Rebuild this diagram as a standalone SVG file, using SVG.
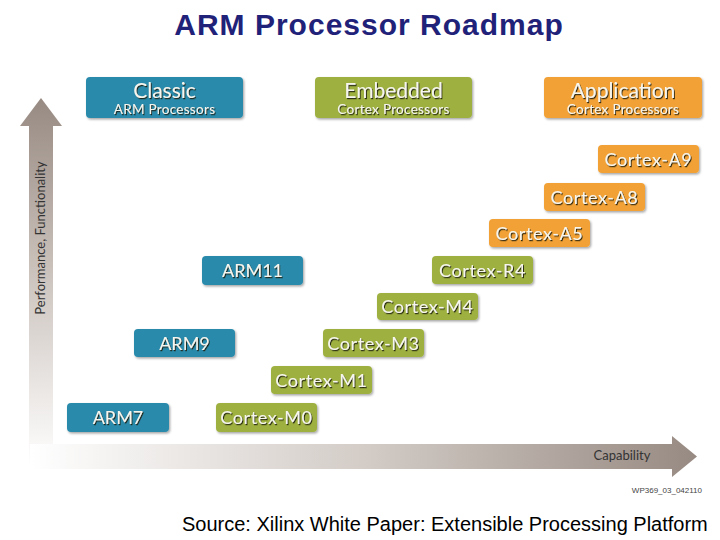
<svg xmlns="http://www.w3.org/2000/svg" width="720" height="540" viewBox="0 0 720 540">
<defs>
<linearGradient id="gv" x1="0" y1="0" x2="0" y2="1">
<stop offset="0" stop-color="#978a82"/>
<stop offset="0.45" stop-color="#c9c0ba"/>
<stop offset="1" stop-color="#ffffff"/>
</linearGradient>
<linearGradient id="gh" x1="0" y1="0" x2="1" y2="0">
<stop offset="0" stop-color="#ffffff"/>
<stop offset="0.5" stop-color="#d3ccc7"/>
<stop offset="1" stop-color="#978a82"/>
</linearGradient>
<filter id="bs" x="-10%" y="-20%" width="125%" height="150%">
<feDropShadow dx="1.2" dy="1.5" stdDeviation="1.2" flood-color="#000" flood-opacity="0.35"/>
</filter>
<filter id="ts" x="-10%" y="-30%" width="130%" height="160%">
<feDropShadow dx="1" dy="1.2" stdDeviation="0.6" flood-color="#1e1e10" flood-opacity="0.9"/>
</filter>
</defs>
<style>
.blue{fill:#2a8aab}
.green{fill:#9db03f}
.orange{fill:#f1a134}
.box{filter:url(#bs)}
.lbl{font-family:Lato,"Open Sans","DejaVu Sans",sans-serif;font-size:18px;fill:#f7f6ee;text-anchor:middle;filter:url(#ts)}
.cx{letter-spacing:0.6px}
.big{font-family:Lato,"Open Sans","DejaVu Sans",sans-serif;font-size:21px;fill:#f7f6ee;text-anchor:middle;filter:url(#ts)}
.sub{font-family:Lato,"Open Sans","DejaVu Sans",sans-serif;font-size:13.5px;fill:#f7f6ee;text-anchor:middle;letter-spacing:0.3px;filter:url(#ts)}
.ax{font-family:Lato,"Open Sans","DejaVu Sans",sans-serif;font-size:13px;fill:#333333}
</style>
<rect width="720" height="540" fill="#ffffff"/>
<text x="369" y="35" font-family="'Liberation Sans',Arial,sans-serif" font-size="30" font-weight="bold" letter-spacing="1" fill="#1f2278" text-anchor="middle">ARM Processor Roadmap</text>
<g id="axes">
<path d="M29,126 L20,126 L41,98 L62,126 L53,126 L53,468 L29,468 Z" fill="url(#gv)"/>
<path d="M30,444 L672,444 L672,436 L697,456.5 L672,477 L672,469 L30,469 Z" fill="url(#gh)"/>
<text class="ax" transform="translate(45,238) rotate(-90)" text-anchor="middle">Performance, Functionality</text>
<text class="ax" x="622" y="460" text-anchor="middle">Capability</text>
</g>
<g id="classic"><rect class="box blue" x="86" y="77" width="157" height="41" rx="4"/><text class="big" x="164.5" y="98">Classic</text><text class="sub" x="164.5" y="114">ARM Processors</text></g>
<g id="embedded"><rect class="box green" x="315" y="77" width="157" height="41" rx="4"/><text class="big" x="393.5" y="98">Embedded</text><text class="sub" x="393.5" y="114">Cortex Processors</text></g>
<g id="application"><rect class="box orange" x="544" y="77" width="158" height="41" rx="4"/><text class="big" x="623" y="98">Application</text><text class="sub" x="623" y="114">Cortex Processors</text></g>
<g id="cortex-a9"><rect class="box orange" x="598" y="145" width="101" height="28" rx="4"/><text class="lbl cx" x="648.5" y="165.5">Cortex-A9</text></g>
<g id="cortex-a8"><rect class="box orange" x="544" y="183" width="101" height="28" rx="4"/><text class="lbl cx" x="594.5" y="203.5">Cortex-A8</text></g>
<g id="cortex-a5"><rect class="box orange" x="489" y="219" width="101" height="28" rx="4"/><text class="lbl cx" x="539.5" y="239.5">Cortex-A5</text></g>
<g id="cortex-r4"><rect class="box green" x="432" y="256" width="101" height="28" rx="4"/><text class="lbl cx" x="482.5" y="276.5">Cortex-R4</text></g>
<g id="arm11"><rect class="box blue" x="202" y="256" width="101" height="29" rx="4"/><text class="lbl" x="252.5" y="277">ARM11</text></g>
<g id="cortex-m4"><rect class="box green" x="377" y="293" width="101" height="27" rx="4"/><text class="lbl cx" x="427.5" y="313">Cortex-M4</text></g>
<g id="arm9"><rect class="box blue" x="134" y="329" width="101" height="28" rx="4"/><text class="lbl" x="184.5" y="349.5">ARM9</text></g>
<g id="cortex-m3"><rect class="box green" x="323" y="329" width="101" height="28" rx="4"/><text class="lbl cx" x="373.5" y="349.5">Cortex-M3</text></g>
<g id="cortex-m1"><rect class="box green" x="271" y="366" width="101" height="28" rx="4"/><text class="lbl cx" x="321.5" y="386.5">Cortex-M1</text></g>
<g id="arm7"><rect class="box blue" x="67" y="403" width="102" height="29" rx="4"/><text class="lbl" x="118" y="424">ARM7</text></g>
<g id="cortex-m0"><rect class="box green" x="216" y="403" width="101" height="29" rx="4"/><text class="lbl cx" x="266.5" y="424">Cortex-M0</text></g>
<text x="702" y="493" font-family="'Liberation Sans',Arial,sans-serif" font-size="8" fill="#444444" text-anchor="end">WP369_03_042110</text>
<text x="182" y="531" font-family="'Liberation Sans',Arial,sans-serif" font-size="20" fill="#000000">Source: Xilinx White Paper: Extensible Processing Platform</text>
</svg>
